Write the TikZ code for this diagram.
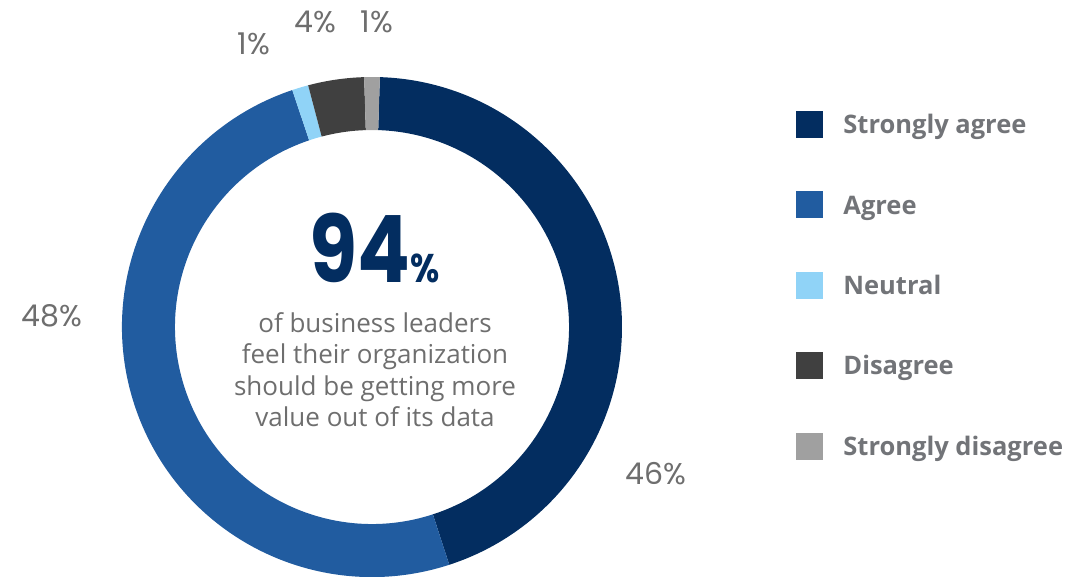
\documentclass[tikz,border=0pt]{standalone}
\usepackage{fontspec}
\setmainfont{Open Sans}
\newfontfamily\pctfont{Poppins}
\usetikzlibrary{positioning}
\definecolor{sagree}{HTML}{032D60}
\definecolor{agree}{HTML}{215CA0}
\definecolor{neutral}{HTML}{90D3F7}
\definecolor{disagree}{HTML}{404040}
\definecolor{sdisagree}{HTML}{A0A0A0}
\definecolor{txtgray}{HTML}{6E6E6E}
\definecolor{leggray}{HTML}{727478}
\tikzset{
	pct/.style={font=\pctfont\fontsize{30}{34}\selectfont, text=txtgray, inner sep=0pt, text height=20pt, text depth=0pt},
	legbox/.style={minimum size=27pt, inner sep=0pt},
	legtext/.style={font=\bfseries\fontsize{25.5}{30}\selectfont, text=leggray, inner sep=0pt, text height=18.5pt, text depth=0pt},
}
\newcommand\ringpart[3]{\fill[#1] (#2:\Rout) arc (#2:#3:\Rout) -- (#3:\Rin) arc (#3:#2:\Rin) -- cycle;}
\begin{document}
\begin{tikzpicture}[line join=round]
		\useasboundingbox (0,0) rectangle (1075pt,576pt);
		%==ring
		\def\Rout{250pt}
		\def\Rin{197pt}
		\coordinate (O) at (372pt,249pt);
		%==============
		\begin{scope}[shift={(O)}]
		\ringpart{sagree}{88.2}{-72}
		\ringpart{agree}{-72}{-251.4}
		\ringpart{neutral}{108.6}{104.8}
		\ringpart{disagree}{104.8}{91.8}
		\ringpart{sdisagree}{91.8}{88.2}
		\end{scope}
		%==values
		\node[pct] (p48) at (52pt,259pt) {48\%};
		\node[pct] (p46) at (656pt,102pt) {46\%};
		\node[pct] (p1a) at (254pt,531pt) {1\%};
		\node[pct] (p4) at (315pt,553pt) {4\%};
		\node[pct] (p1b) at (377pt,553pt) {1\%};
		%==centre text
		\node[anchor=base, inner sep=0pt, text=sagree, font=\pctfont\bfseries, xscale=0.84, transform shape] (big) at (375pt,293pt)
			{{\fontsize{93}{93}\selectfont 94}{\fontsize{40}{40}\selectfont\%}};
		\node[anchor=north, inner sep=0pt, align=center, text=txtgray, font=\fontsize{26}{31.5}\selectfont] (sub) at (375pt,264pt)
			{of business leaders\\feel their organization\\should be getting more\\value out of its data};
		%==legend
		\node[legbox, fill=sagree] (sq1) at (809.5pt,451.5pt) {};
		\node[legbox, fill=agree, below=53pt of sq1] (sq2) {};
		\node[legbox, fill=neutral, below=53pt of sq2] (sq3) {};
		\node[legbox, fill=disagree, below=53pt of sq3] (sq4) {};
		\node[legbox, fill=sdisagree, below=53pt of sq4] (sq5) {};
		\node[legtext, right=20pt of sq1] (l1) {Strongly agree};
		\node[legtext, right=20pt of sq2] (l2) {Agree};
		\node[legtext, right=20pt of sq3] (l3) {Neutral};
		\node[legtext, right=20pt of sq4] (l4) {Disagree};
		\node[legtext, right=20pt of sq5] (l5) {Strongly disagree};
		\end{tikzpicture}
\end{document}
